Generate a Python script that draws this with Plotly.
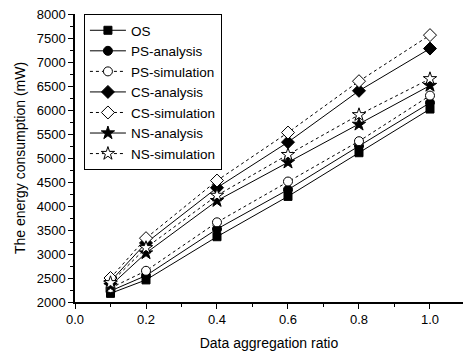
import plotly.graph_objects as go

x_ratio = [0.1, 0.2, 0.4, 0.6, 0.8, 1.0]
os_vals = [2180, 2460, 3360, 4200, 5110, 6020]
ps_analysis = [2230, 2550, 3520, 4340, 5250, 6150]
ps_simulation = [2290, 2650, 3660, 4510, 5350, 6300]
cs_analysis = [2430, 3230, 4380, 5330, 6400, 7280]
cs_simulation = [2500, 3330, 4530, 5530, 6600, 7560]
ns_analysis = [2340, 3020, 4110, 4910, 5700, 6510]
ns_simulation = [2400, 3130, 4220, 5070, 5900, 6650]

series = [
    ("OS", os_vals, "square", "solid", True, 8),
    ("PS-analysis", ps_analysis, "circle", "solid", True, 9),
    ("PS-simulation", ps_simulation, "circle-open", "dot", False, 9),
    ("CS-analysis", cs_analysis, "diamond", "solid", True, 10),
    ("CS-simulation", cs_simulation, "diamond-open", "dot", False, 10),
    ("NS-analysis", ns_analysis, "star", "solid", True, 10),
    ("NS-simulation", ns_simulation, "star-open", "dot", False, 10),
]

fig = go.Figure()
for name, vals, sym, dash, filled, size in series:
    base = sym.replace("-open", "")
    fig.add_trace(go.Scatter(
        x=x_ratio, y=vals, name=name, mode="lines+markers",
        line=dict(color="black", width=1, dash=dash),
        marker=dict(symbol=base, size=size,
                    color="black" if filled else "white",
                    line=dict(color="black", width=1)),
    ))

axis_font = dict(family="Liberation Sans, Arial, sans-serif", size=13, color="black")
fig.update_layout(
    width=463, height=352,
    margin=dict(l=75, r=0, t=14, b=50),
    paper_bgcolor="white", plot_bgcolor="white",
    font=dict(family="Liberation Sans, Arial, sans-serif", color="black"),
    showlegend=True,
    legend=dict(x=0.023, y=1, xanchor="left", yanchor="top",
                bordercolor="black", borderwidth=1, bgcolor="white",
                font=dict(size=13.5), tracegroupgap=0, itemwidth=36),
    xaxis=dict(range=[0, 1.093], tickvals=[0, 0.2, 0.4, 0.6, 0.8, 1.0],
               ticktext=["0.0", "0.2", "0.4", "0.6", "0.8", "1.0"],
               ticks="outside", ticklen=5, tickcolor="black", automargin=False,
               minor=dict(dtick=0.1, ticks="outside", ticklen=3, tickcolor="black", tick0=0),
               showline=True, linecolor="black", linewidth=1.5, showgrid=False, zeroline=False,
               tickfont=axis_font,
               title=dict(text="Data aggregation ratio", font=dict(size=14), standoff=12)),
    yaxis=dict(range=[2000, 8000], dtick=500, tick0=2000,
               ticks="outside", ticklen=5, tickcolor="black", automargin=False,
               minor=dict(dtick=250, ticks="outside", ticklen=3, tickcolor="black"),
               showline=True, linecolor="black", linewidth=1.5, showgrid=False, zeroline=False,
               tickfont=axis_font,
               title=dict(text="The energy consumption (mW)", font=dict(size=14), standoff=8)),
)

fig.write_html("out.html", config={"displayModeBar": False},
               post_script="document.body.style.margin='0';document.body.style.padding='0';")
